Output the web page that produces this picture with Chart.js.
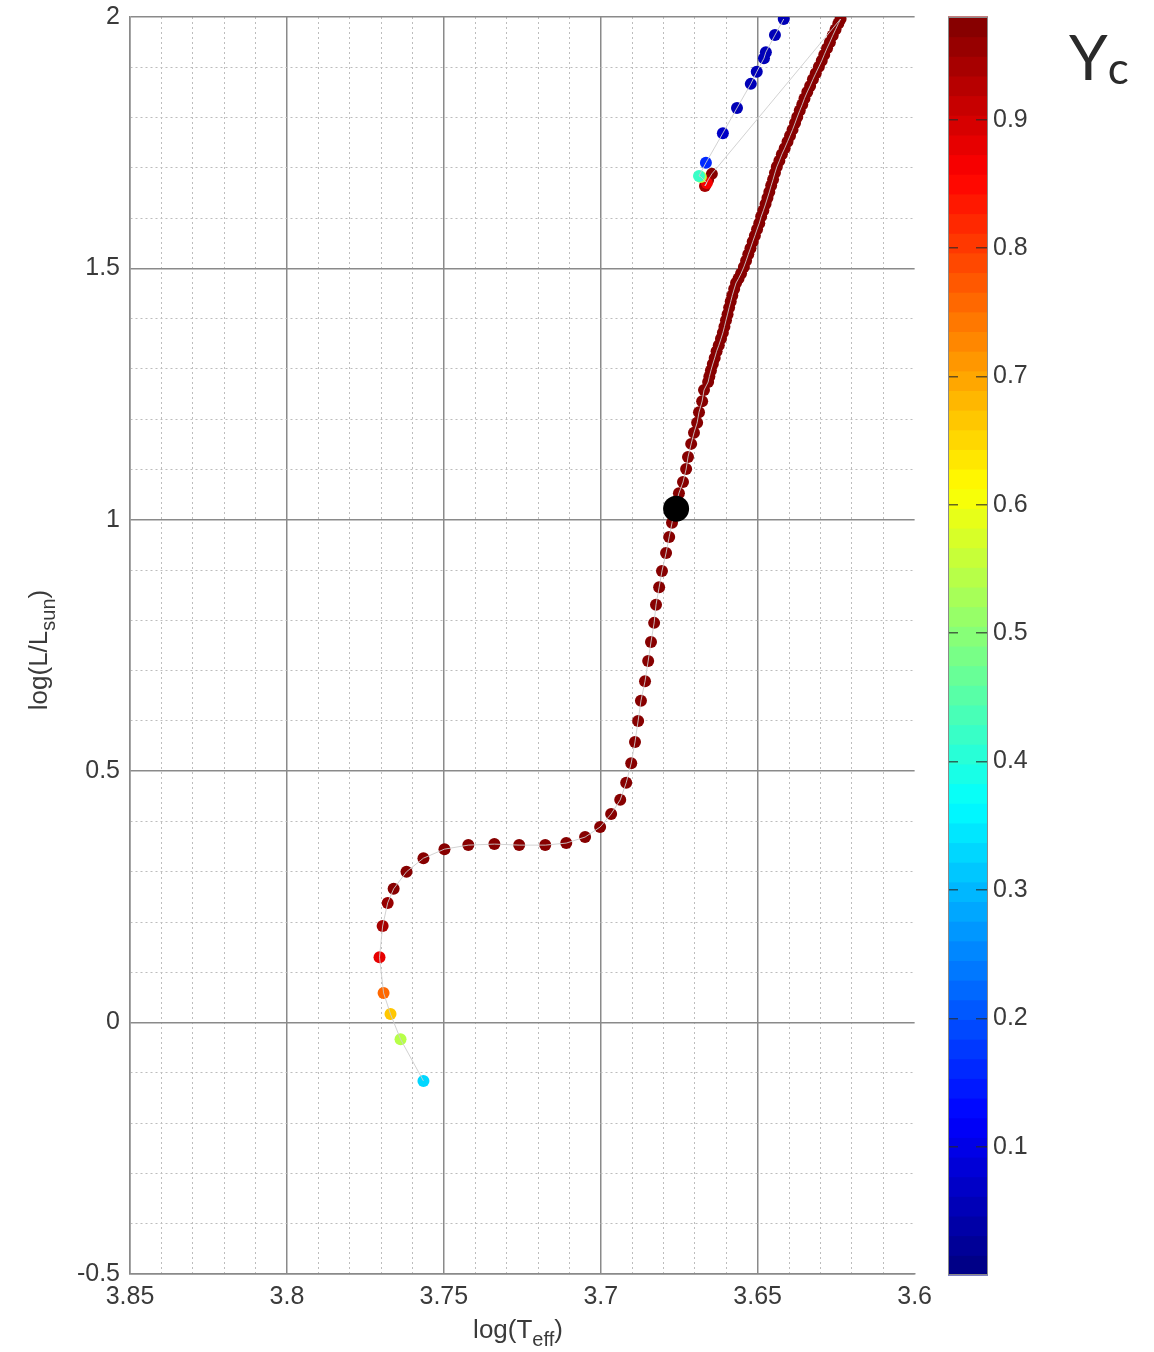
<!DOCTYPE html>
<html>
<head>
<meta charset="utf-8">
<script src="https://cdn.jsdelivr.net/npm/chart.js@4.4.1/dist/chart.umd.min.js"></script>
<style>
    body { margin: 0; background: #fff; }
    #wrap { position: relative; width: 1154px; height: 1352px; }
    canvas { position: absolute; top: 0; }
    #hr { left: 0; }
    #cb { left: 940px; }
</style>
</head>
<body>
<div id="wrap">
    <canvas id="hr" width="940" height="1352"></canvas>
    <canvas id="cb" width="214" height="1352"></canvas>
</div>
<script>
// evolutionary track: log Teff, log L/Lsun, central helium Yc
const logTeff = [
    // main sequence, subgiant branch, lower RGB
    3.7565, 3.7638, 3.7670, 3.7692, 3.7705, 3.7695, 3.7679, 3.7660, 3.7619, 3.7565,
    3.7498, 3.7422, 3.7339, 3.7260, 3.7177, 3.7110, 3.7050, 3.7002, 3.6967, 3.6938,
    3.6919, 3.6903, 3.6891, 3.6881, 3.6872, 3.6859, 3.6849, 3.6840, 3.6830, 3.6824,
    3.6814, 3.6805, 3.6792, 3.6782, 3.6773, 3.6763, 3.6751, 3.6738, 3.6728, 3.6722,
    3.6712, 3.6703, 3.6693, 3.6687, 3.6677, 3.6671, 3.6658,
    // upper RGB
    3.6654, 3.6649, 3.6643, 3.6637, 3.6631, 3.6624, 3.6617, 3.6611, 3.6606, 3.6601,
    3.6596, 3.6591, 3.6586, 3.6581, 3.6575, 3.6569, 3.6561, 3.6553, 3.6544, 3.6537,
    3.6530, 3.6523, 3.6516, 3.6509, 3.6502, 3.6495, 3.6489, 3.6482, 3.6475, 3.6469,
    3.6463, 3.6457, 3.6451, 3.6445, 3.6439, 3.6431, 3.6423, 3.6414, 3.6405, 3.6397,
    3.6389, 3.6381, 3.6374, 3.6366, 3.6358, 3.6351, 3.6342, 3.6333, 3.6324, 3.6315,
    3.6305, 3.6296, 3.6288, 3.6279, 3.6270, 3.6261, 3.6252, 3.6243, 3.6236,
    // horizontal branch + AGB
    3.6646, 3.6658, 3.6668, 3.6662, 3.6681, 3.6687, 3.6665, 3.6611, 3.6566, 3.6522,
    3.6503, 3.6480, 3.6474, 3.6445, 3.6417
];
const logL = [
    -0.116, -0.033, 0.017, 0.059, 0.130, 0.192, 0.238, 0.266, 0.300, 0.327,
    0.345, 0.353, 0.355, 0.353, 0.353, 0.357, 0.369, 0.389, 0.415, 0.443,
    0.477, 0.516, 0.558, 0.600, 0.640, 0.679, 0.719, 0.757, 0.795, 0.831,
    0.866, 0.898, 0.934, 0.966, 0.994, 1.023, 1.053, 1.075, 1.101, 1.125,
    1.151, 1.173, 1.193, 1.214, 1.236, 1.258, 1.274,
    1.285, 1.297, 1.310, 1.322, 1.335, 1.347, 1.360, 1.372, 1.384, 1.397,
    1.409, 1.422, 1.434, 1.446, 1.459, 1.471, 1.480, 1.490, 1.503, 1.515,
    1.528, 1.540, 1.553, 1.565, 1.578, 1.590, 1.603, 1.615, 1.628, 1.640,
    1.652, 1.665, 1.677, 1.690, 1.702, 1.714, 1.727, 1.739, 1.752, 1.764,
    1.776, 1.789, 1.801, 1.814, 1.826, 1.838, 1.851, 1.863, 1.876, 1.888,
    1.901, 1.913, 1.925, 1.938, 1.950, 1.963, 1.975, 1.987, 1.996,
    1.688, 1.676, 1.664, 1.670, 1.682, 1.684, 1.710, 1.769, 1.819, 1.867,
    1.891, 1.918, 1.930, 1.964, 1.996
];
const yc = [
    0.33, 0.54, 0.66, 0.76, 0.88, 0.94, 0.96, 0.97, 0.97, 0.97,
    0.97, 0.97, 0.97, 0.97, 0.97, 0.97, 0.97, 0.97, 0.97, 0.97,
    0.97, 0.97, 0.97, 0.97, 0.97, 0.97, 0.97, 0.97, 0.97, 0.97,
    0.97, 0.97, 0.97, 0.97, 0.97, 0.97, 0.97, 0.97, 0.97, 0.97,
    0.97, 0.97, 0.97, 0.97, 0.97, 0.97, 0.97,
    0.97, 0.97, 0.97, 0.97, 0.97, 0.97, 0.97, 0.97, 0.97, 0.97,
    0.97, 0.97, 0.97, 0.97, 0.97, 0.97, 0.97, 0.97, 0.97, 0.97,
    0.97, 0.97, 0.97, 0.97, 0.97, 0.97, 0.97, 0.97, 0.97, 0.97,
    0.97, 0.97, 0.97, 0.97, 0.97, 0.97, 0.97, 0.97, 0.97, 0.97,
    0.97, 0.97, 0.97, 0.97, 0.97, 0.97, 0.97, 0.97, 0.97, 0.97,
    0.97, 0.97, 0.97, 0.97, 0.97, 0.97, 0.97, 0.97, 0.97,
    0.97, 0.96, 0.94, 0.86, 0.55, 0.42, 0.16, 0.07, 0.06, 0.06,
    0.06, 0.06, 0.06, 0.06, 0.06
];

// highlighted model (big black dot)
const markTeff = [3.6760];
const markL = [1.022];

// colour bar
const ycMax = 0.98;
const ycLevels = 64;

function jet(t) {
    const f = v => Math.round(255 * Math.max(0, Math.min(1, v)));
    return 'rgb(' + f(1.5 - Math.abs(4 * t - 3)) + ',' + f(1.5 - Math.abs(4 * t - 2)) + ',' + f(1.5 - Math.abs(4 * t - 1)) + ')';
}
function ycColor(v) {
    const i = Math.max(0, Math.min(ycLevels - 1, Math.floor(v / ycMax * ycLevels)));
    return jet((i + 0.5) / ycLevels);
}

const track = logTeff.map((x, i) => ({ x: x, y: logL[i] }));
const pointColors = yc.map(ycColor);

const FONT = "'Liberation Sans', Arial, sans-serif";
const isMajorX = v => Math.abs(v * 20 - Math.round(v * 20)) < 1e-4;
const isMajorY = v => Math.abs(v * 2 - Math.round(v * 2)) < 1e-4;

function drawPieces(ctx, pieces, x0, y0) {
    let w = 0;
    pieces.forEach(p => { ctx.font = p.size + 'px ' + FONT; w += ctx.measureText(p.t).width; });
    let x = x0 - w / 2;
    pieces.forEach(p => {
        ctx.font = p.size + 'px ' + FONT;
        ctx.fillText(p.t, x, y0 + p.dy);
        x += ctx.measureText(p.t).width;
    });
}

const axisTitles = {
    id: 'axisTitles',
    afterDraw(chart) {
        const ctx = chart.ctx;
        ctx.save();
        ctx.fillStyle = '#3a3a3a';
        ctx.textBaseline = 'alphabetic';
        ctx.textAlign = 'left';
        drawPieces(ctx, [
            { t: 'log(T', size: 26, dy: 0 },
            { t: 'eff', size: 20, dy: 8 },
            { t: ')', size: 26, dy: 0 }
        ], 518, 1338);
        ctx.translate(47, 650);
        ctx.rotate(-Math.PI / 2);
        drawPieces(ctx, [
            { t: 'log(L/L', size: 26, dy: 0 },
            { t: 'sun', size: 20, dy: 8 },
            { t: ')', size: 26, dy: 0 }
        ], 0, 0);
        ctx.restore();
    }
};

new Chart(document.getElementById('hr').getContext('2d'), {
    type: 'scatter',
    data: {
        datasets: [
            {
                label: 'model',
                data: markTeff.map((x, i) => ({ x: x, y: markL[i] })),
                backgroundColor: '#000',
                borderWidth: 0,
                pointRadius: 13,
                order: 0
            },
            {
                label: 'track line',
                data: track,
                showLine: true,
                borderColor: 'rgba(205,205,205,0.9)',
                borderWidth: 1,
                pointRadius: 0,
                order: 1
            },
            {
                label: 'track',
                data: track,
                backgroundColor: pointColors,
                borderWidth: 0,
                pointRadius: 6,
                order: 2
            }
        ]
    },
    options: {
        responsive: false,
        animation: false,
        devicePixelRatio: 1,
        layout: { padding: { left: 0, top: 17, right: 24, bottom: 0 } },
        plugins: { legend: { display: false }, tooltip: { enabled: false } },
        scales: {
            x: {
                type: 'linear',
                reverse: true,
                min: 3.6,
                max: 3.85,
                afterFit: s => { s.height = 78; },
                ticks: {
                    stepSize: 0.01,
                    autoSkip: false,
                    maxRotation: 0,
                    padding: 8,
                    color: '#3a3a3a',
                    font: { size: 25, family: FONT },
                    callback: v => isMajorX(v) ? String(+v.toFixed(2)) : ''
                },
                grid: {
                    drawTicks: false,
                    color: c => {
                        const v = c.tick ? c.tick.value : 0;
                        if (Math.abs(v - 3.6) < 1e-6) return 'rgba(0,0,0,0)';
                        return isMajorX(v) ? '#8a8a8a' : '#bdbdbd';
                    },
                    lineWidth: c => (c.tick && isMajorX(c.tick.value)) ? 1.5 : 1
                },
                border: {
                    display: true,
                    color: '#8a8a8a',
                    width: 1.5,
                    dash: c => (c.tick && !isMajorX(c.tick.value)) ? [2, 3] : []
                }
            },
            y: {
                type: 'linear',
                min: -0.5,
                max: 2,
                afterFit: s => { s.width = 130; s.paddingTop = 0; s.paddingBottom = 0; },
                ticks: {
                    stepSize: 0.1,
                    autoSkip: false,
                    padding: 10,
                    color: '#3a3a3a',
                    font: { size: 25, family: FONT },
                    callback: v => isMajorY(v) ? String(Math.round(v * 10) / 10) : ''
                },
                grid: {
                    drawTicks: false,
                    color: c => (c.tick && isMajorY(c.tick.value)) ? '#8a8a8a' : '#bdbdbd',
                    lineWidth: c => (c.tick && isMajorY(c.tick.value)) ? 1.5 : 1
                },
                border: {
                    display: true,
                    color: '#8a8a8a',
                    width: 1.5,
                    dash: c => (c.tick && !isMajorY(c.tick.value)) ? [2, 3] : []
                }
            }
        }
    },
    plugins: [axisTitles]
});

const colorBand = {
    id: 'colorBand',
    beforeDraw(chart) {
        const ctx = chart.ctx;
        const a = chart.chartArea;
        const s = chart.scales.y;
        ctx.save();
        for (let i = 0; i < ycLevels; i++) {
            const top = s.getPixelForValue((i + 1) * ycMax / ycLevels);
            const bot = s.getPixelForValue(i * ycMax / ycLevels);
            ctx.fillStyle = jet((i + 0.5) / ycLevels);
            ctx.fillRect(a.left, top - 0.5, a.right - a.left, bot - top + 1);
        }
        ctx.restore();
    },
    afterDraw(chart) {
        const ctx = chart.ctx;
        const a = chart.chartArea;
        ctx.save();
        ctx.strokeStyle = '#8a8a8a';
        ctx.lineWidth = 1;
        ctx.strokeRect(a.left + 0.5, a.top + 0.5, a.right - a.left - 1, a.bottom - a.top - 1);
        ctx.fillStyle = '#2a2a2a';
        ctx.textBaseline = 'alphabetic';
        ctx.font = "62px Lato, 'Open Sans', sans-serif";
        ctx.fillText('Y', 129, 80);
        const w = ctx.measureText('Y').width;
        ctx.font = "44px Lato, 'Open Sans', sans-serif";
        ctx.fillText('c', 129 + w, 84);
        ctx.restore();
    }
};

new Chart(document.getElementById('cb').getContext('2d'), {
    type: 'scatter',
    data: { datasets: [] },
    options: {
        responsive: false,
        animation: false,
        devicePixelRatio: 1,
        layout: { padding: { left: 8, top: 17, right: 0, bottom: 77 } },
        plugins: { legend: { display: false }, tooltip: { enabled: false } },
        scales: {
            x: { display: false, min: 0, max: 1 },
            y: {
                type: 'linear',
                position: 'right',
                min: 0,
                max: ycMax,
                afterFit: s => { s.width = 166; s.paddingTop = 0; s.paddingBottom = 0; },
                ticks: {
                    stepSize: 0.1,
                    padding: 5,
                    color: '#3a3a3a',
                    font: { size: 25, family: FONT },
                    callback: v => (v > 0.05 && v < 0.95) ? v.toFixed(1) : null
                },
                grid: {
                    drawTicks: false,
                    color: 'rgba(40,40,40,0.7)',
                    lineWidth: 1.5
                },
                border: { display: false, dash: [10, 18, 12] }
            }
        }
    },
    plugins: [colorBand]
});
</script>
</body>
</html>
